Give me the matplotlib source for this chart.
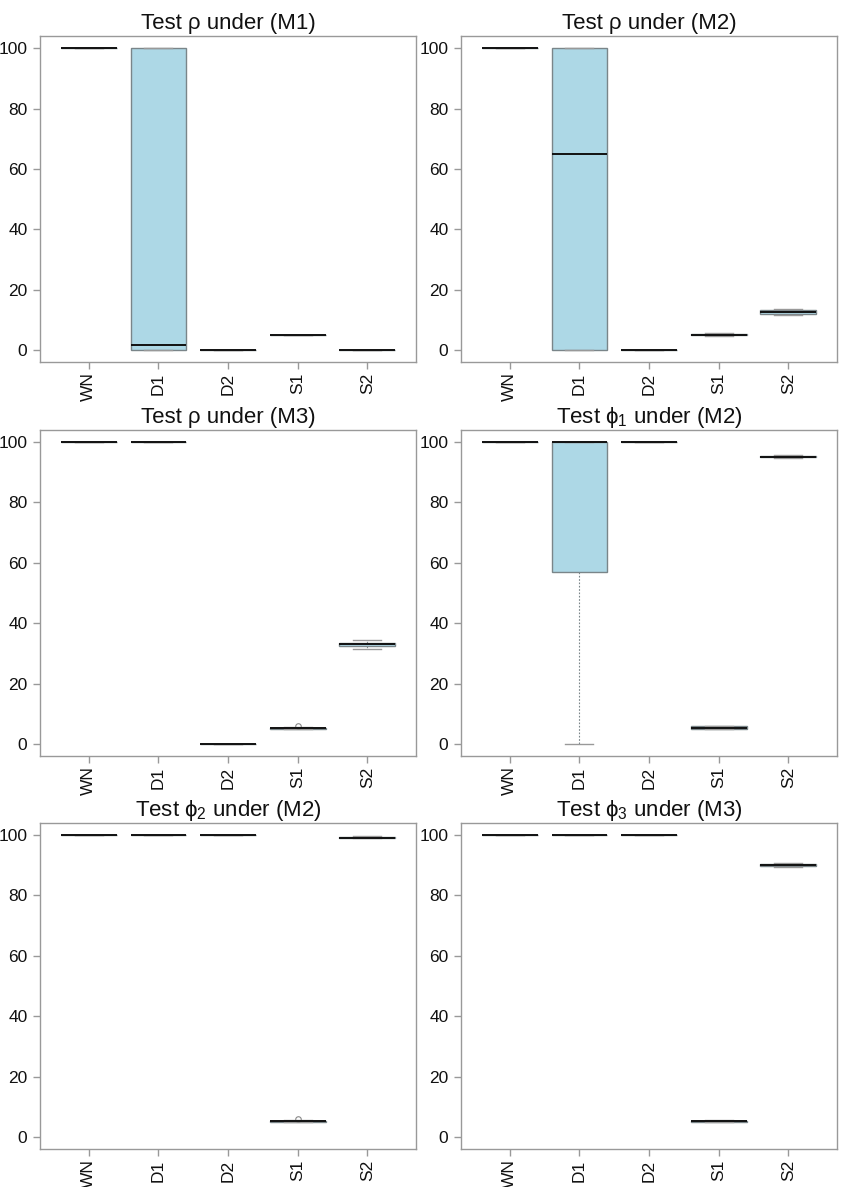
import matplotlib
matplotlib.use('Agg')
import matplotlib.pyplot as plt

plt.rcParams['font.family'] = ['Liberation Sans', 'DejaVu Sans']
plt.rcParams['mathtext.fontset'] = 'custom'
plt.rcParams['mathtext.rm'] = 'Liberation Sans'
plt.rcParams['mathtext.it'] = 'Liberation Sans'

methods = ['WN', 'D1', 'D2', 'S1', 'S2']

titles = ['Test \u03c1 under (M1)', 'Test \u03c1 under (M2)',
          'Test \u03c1 under (M3)', 'Test $\\phi_1$ under (M2)',
          'Test $\\phi_2$ under (M2)', 'Test $\\phi_3$ under (M3)']

# five-number summaries per panel, one value per method
whislo = [[100, 0, 0, 5.0, 0],
          [100, 0, 0, 4.6, 11.5],
          [100, 100, 0, 4.9, 31.6],
          [100, 0, 100, 4.9, 94.9],
          [100, 100, 100, 4.9, 98.9],
          [100, 100, 100, 4.9, 89.6]]
q1 = [[100, 0, 0, 5.0, 0],
      [100, 0, 0, 4.8, 11.9],
      [100, 100, 0, 5.0, 32.3],
      [100, 57, 100, 5.0, 95.0],
      [100, 100, 100, 5.0, 99.0],
      [100, 100, 100, 5.0, 89.9]]
med = [[100, 1.5, 0, 5.0, 0],
       [100, 65, 0, 5.0, 12.5],
       [100, 100, 0, 5.2, 33.0],
       [100, 100, 100, 5.3, 95.2],
       [100, 100, 100, 5.2, 99.2],
       [100, 100, 100, 5.2, 90.2]]
q3 = [[100, 100, 0, 5.1, 0],
      [100, 100, 0, 5.3, 13.2],
      [100, 100, 0, 5.3, 33.6],
      [100, 100, 100, 5.8, 95.5],
      [100, 100, 100, 5.4, 99.4],
      [100, 100, 100, 5.4, 90.5]]
whishi = [[100, 100, 0, 5.1, 0],
          [100, 100, 0, 5.6, 13.6],
          [100, 100, 0, 5.5, 34.4],
          [100, 100, 100, 6.0, 95.7],
          [100, 100, 100, 5.5, 99.6],
          [100, 100, 100, 5.6, 90.9]]
outliers = [[[], [], [], [], []],
            [[], [], [], [], []],
            [[], [], [], [5.95], []],
            [[], [], [], [], []],
            [[], [], [], [5.9], []],
            [[], [], [], [], []]]

fig = plt.figure(figsize=(8.42, 11.87), dpi=100)
lefts = [0.0475, 0.5475]
bottoms = [0.695, 0.3631, 0.032]

edge = '#7a8589'
for k in range(6):
    ax = fig.add_axes([lefts[k % 2], bottoms[k // 2], 0.4466, 0.2746])
    stats = []
    for j, m in enumerate(methods):
        stats.append(dict(label=m, whislo=whislo[k][j], q1=q1[k][j], med=med[k][j],
                          q3=q3[k][j], whishi=whishi[k][j], fliers=outliers[k][j]))
    ax.bxp(stats, positions=range(1, 6), widths=0.8, capwidths=0.4, patch_artist=True,
           boxprops=dict(facecolor='#add8e6', edgecolor=edge, linewidth=1.0),
           medianprops=dict(color='#111111', linewidth=1.4),
           whiskerprops=dict(color=edge, linewidth=0.8, linestyle=(0, (1.5, 1.5))),
           capprops=dict(color='#999999', linewidth=1.0),
           flierprops=dict(marker='o', markersize=4, markerfacecolor='none',
                           markeredgecolor='#888888', markeredgewidth=0.8))
    ax.set_xlim(0.3, 5.7)
    ax.set_ylim(-4, 104)
    ax.set_yticks([0, 20, 40, 60, 80, 100])
    ax.set_xticks(range(1, 6))
    ax.set_xticklabels(methods, rotation=90)
    ax.tick_params(axis='both', labelsize=12.5, colors='#999999', labelcolor='#111111',
                   length=5, width=1, pad=4)
    ax.tick_params(axis='x', pad=2.5)
    for s in ax.spines.values():
        s.set_color('#999999')
        s.set_linewidth(1.0)
    ax.set_title(titles[k], fontsize=16, pad=5, color='#111111')

fig.savefig('out.png', dpi=100)
